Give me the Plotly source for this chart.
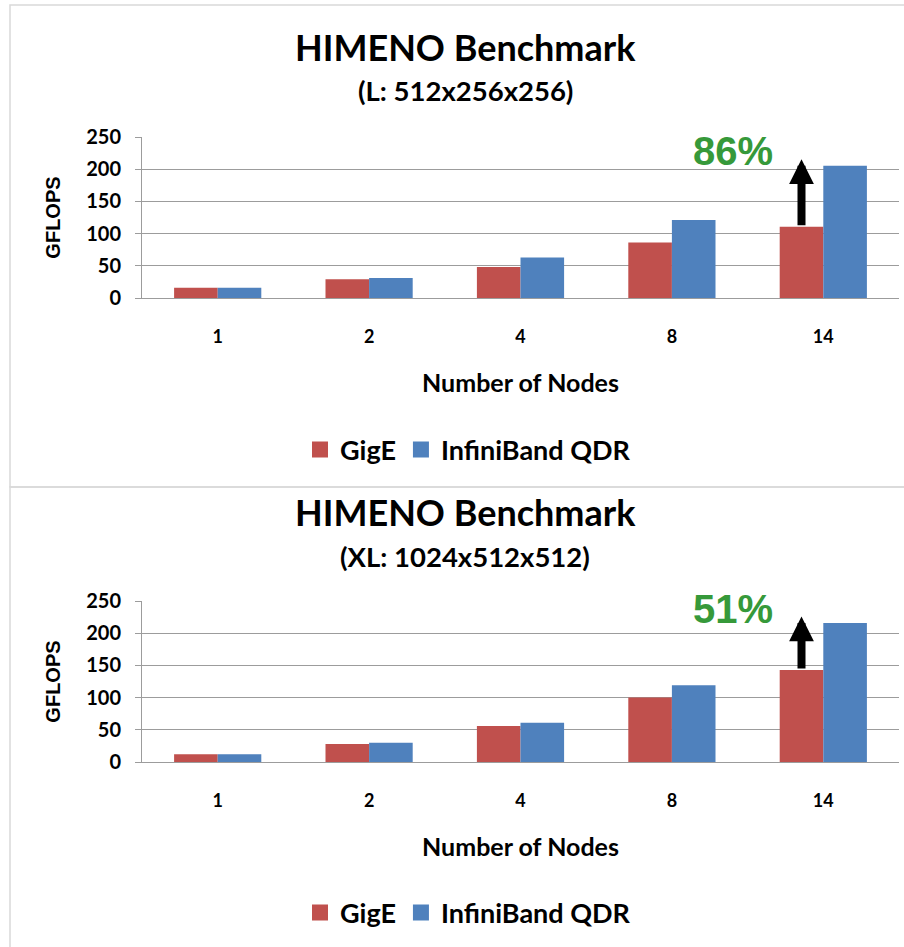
import plotly.graph_objects as go

# ---- data -------------------------------------------------------------
nodes = ["1", "2", "4", "8", "14"]

gige_l = [16, 29, 48, 86, 110.5]
infiniband_l = [16, 31, 63, 121, 205.5]

gige_xl = [12, 28, 56, 100, 143]
infiniband_xl = [12, 30, 61, 119, 216]

titles = ["HIMENO Benchmark", "HIMENO Benchmark"]
subtitles = ["(L: 512x256x256)", "(XL: 1024x512x512)"]
y_ticks = [0, 50, 100, 150, 200, 250]

# ---- styling ----------------------------------------------------------
W, H = 904, 947
RED = "#C0504D"
BLUE = "#4F81BD"
GREEN = "#36993A"
GRID = "#9C9C9C"
FRAME = "#D9D9D9"
CAL = "Lato"
ARIAL = "Liberation Sans"
BARGAP = 0.424


def fx(p):
    return p / W


def fy(p):
    return 1 - p / H


fig = go.Figure()

panels = [
    dict(gige=gige_l, ib=infiniband_l, xa="x", ya="y", leg="legend"),
    dict(gige=gige_xl, ib=infiniband_xl, xa="x2", ya="y2", leg="legend2"),
]

for p in panels:
    fig.add_trace(go.Bar(x=nodes, y=p["gige"], name="GigE", marker_color=RED,
                         marker_line_width=0, xaxis=p["xa"], yaxis=p["ya"],
                         showlegend=False))
    fig.add_trace(go.Bar(x=nodes, y=p["ib"], name="InfiniBand QDR", marker_color=BLUE,
                         marker_line_width=0, xaxis=p["xa"], yaxis=p["ya"],
                         showlegend=False))
    # legend entries with square swatches
    for name, col in (("GigE", RED), ("InfiniBand QDR", BLUE)):
        fig.add_trace(go.Scatter(x=[None], y=[None], mode="markers", name=name,
                                 marker=dict(symbol="square", size=16, color=col),
                                 xaxis=p["xa"], yaxis=p["ya"], legend=p["leg"],
                                 showlegend=True, hoverinfo="skip"))

x_dom = [fx(142), fx(899)]
y_doms = [[fy(298), fy(137)], [fy(762), fy(601)]]


def yaxis_cfg(dom, anchor):
    return dict(
        domain=dom, anchor=anchor, range=[0, 250], tickvals=y_ticks,
        showgrid=True, gridcolor=GRID, gridwidth=1, zeroline=False,
        showline=True, linecolor=GRID, linewidth=1,
        ticks="outside", ticklen=6, tickcolor=GRID, tickwidth=1,
        ticklabelstandoff=10,
        tickfont=dict(family=CAL, size=20, color="black", weight="bold"),
        title=dict(text="GFLOPS", standoff=20,
                   font=dict(family=ARIAL, size=20, color="black", weight="bold")),
        fixedrange=True,
    )


def xaxis_cfg(anchor):
    return dict(
        domain=x_dom, anchor=anchor, type="category",
        showgrid=False, zeroline=False, showline=True, linecolor=GRID, linewidth=1,
        ticks="", ticklabelstandoff=22,
        tickfont=dict(family=CAL, size=18, color="black", weight="bold"),
        title=dict(text="Number of Nodes", standoff=28,
                   font=dict(family=CAL, size=25, color="black", weight="bold")),
        fixedrange=True,
    )


legend_common = dict(
    orientation="h", xanchor="center", yanchor="middle", x=fx(468),
    font=dict(family=CAL, size=27, color="black", weight="bold"),
    bgcolor="rgba(0,0,0,0)", itemwidth=30, traceorder="normal",
    itemsizing="trace",
)

annotations = []
shapes = []

title_y = [(47, 91), (512, 556)]
for i, p in enumerate(panels):
    t_y, s_y = title_y[i]
    annotations.append(dict(xref="paper", yref="paper", x=fx(465), y=fy(t_y),
                            text=titles[i], showarrow=False, xanchor="center", yanchor="middle",
                            font=dict(family=CAL, size=36, color="black", weight="bold")))
    annotations.append(dict(xref="paper", yref="paper", x=fx(465), y=fy(s_y),
                            text=subtitles[i], showarrow=False, xanchor="center", yanchor="middle",
                            font=dict(family=CAL, size=27.5, color="black", weight="bold")))

    # improvement of InfiniBand over GigE at the largest node count
    g_last, ib_last = p["gige"][-1], p["ib"][-1]
    gain = round((ib_last / g_last - 1) * 100)
    xref, yref = p["xa"], p["ya"]
    red_x = len(nodes) - 1 - (1 - BARGAP) / 4
    annotations.append(dict(xref=xref, yref=yref, x=red_x, y=ib_last + 10,
                            axref=xref, ayref=yref, ax=red_x, ay=g_last,
                            text="", showarrow=True, arrowhead=2, arrowsize=0.62,
                            arrowwidth=8, arrowcolor="black", standoff=0, startstandoff=0))
    annotations.append(dict(xref=xref, yref=yref, x=len(nodes) - 1 - 0.595,
                            y=ib_last + 22, text=f"{gain}%", showarrow=False,
                            xanchor="center", yanchor="middle",
                            font=dict(family=ARIAL, size=40, color=GREEN, weight="bold")))

# panel frames
shapes.append(dict(type="rect", xref="paper", yref="paper", x0=fx(10), x1=1.02,
                   y0=fy(487), y1=fy(5), line=dict(color=FRAME, width=1.5)))
shapes.append(dict(type="rect", xref="paper", yref="paper", x0=fx(10), x1=1.02,
                   y0=-0.02, y1=fy(487), line=dict(color=FRAME, width=1.5)))

fig.update_layout(
    width=W, height=H,
    margin=dict(l=0, r=0, t=0, b=0, autoexpand=False),
    paper_bgcolor="white", plot_bgcolor="white",
    barmode="group", bargap=BARGAP, bargroupgap=0,
    xaxis=xaxis_cfg("y"), yaxis=yaxis_cfg(y_doms[0], "x"),
    xaxis2=xaxis_cfg("y2"), yaxis2=yaxis_cfg(y_doms[1], "x2"),
    legend=dict(legend_common, y=fy(450)),
    legend2=dict(legend_common, y=fy(913)),
    annotations=annotations, shapes=shapes,
    hovermode=False,
)

fig.write_html("out.html")
